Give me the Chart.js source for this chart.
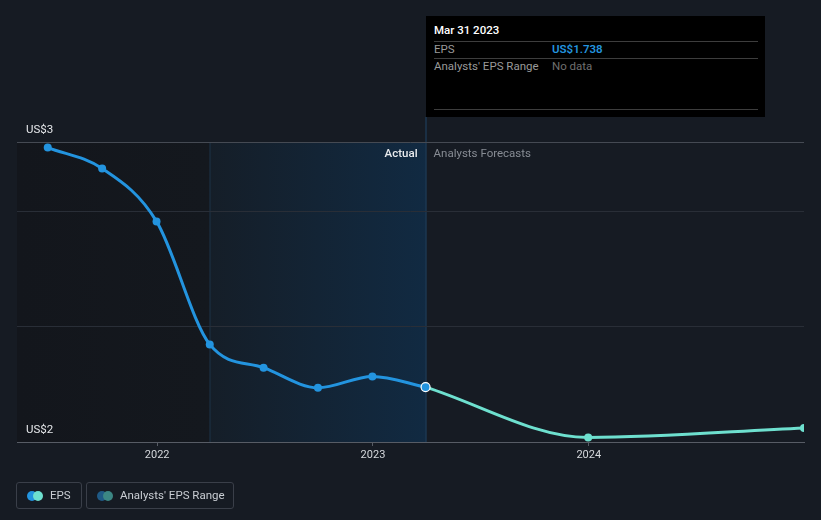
<!DOCTYPE html>
<html>
<head>
<meta charset="utf-8">
<script src="https://cdn.jsdelivr.net/npm/chart.js@4"></script>
<style>
  html, body { margin: 0; padding: 0; background: #161b23; }
  #wrap { position: relative; width: 821px; height: 520px; overflow: hidden; background: #161b23; font-family: Roboto, "Noto Sans", sans-serif; }
  canvas { position: absolute; left: 0; top: 0; }
  #tip { position: absolute; left: 426px; top: 16px; width: 339px; height: 101px; background: #000; }
  #tip div { line-height: 13px; }
  #tip .title { position: absolute; left: 8px; top: 8px; color: #fff; font-size: 11.5px; font-weight: 500; }
  #tip .sep { position: absolute; left: 8px; width: 324px; height: 1px; background: #3d3d3d; }
  #tip .lab { position: absolute; left: 8px; color: #9a9a9a; font-size: 11.5px; }
  #tip .val { position: absolute; left: 126px; font-size: 11.5px; }
  .legend { position: absolute; top: 482px; height: 27px; border: 1px solid #3a3f49; border-radius: 3px; box-sizing: border-box; color: #c9cdd3; font-size: 11.5px; }
  .legend .dot { position: absolute; top: 7.5px; width: 10px; height: 10px; border-radius: 50%; }
  .legend .txt { position: absolute; top: 5.5px; line-height: 13px; }
</style>
</head>
<body>
<div id="wrap">
  <canvas id="c" width="821" height="520"></canvas>
  <div id="tip">
    <div class="title">Mar 31 2023</div>
    <div class="sep" style="top:25px"></div>
    <div class="lab" style="top:27px">EPS</div>
    <div class="val" style="top:27px;color:#2394df;font-weight:600">US$1.738</div>
    <div class="sep" style="top:42px"></div>
    <div class="lab" style="top:44px">Analysts' EPS Range</div>
    <div class="val" style="top:44px;color:#6f6f6f">No data</div>
    <div class="sep" style="top:93px"></div>
  </div>
  <div class="legend" style="left:16px;width:66px">
    <div class="dot" style="left:10px;background:#2394df"></div>
    <div class="dot" style="left:16px;background:#6ee0cf"></div>
    <div class="txt" style="left:33px">EPS</div>
  </div>
  <div class="legend" style="left:86px;width:148px">
    <div class="dot" style="left:10px;background:#1f5a86"></div>
    <div class="dot" style="left:16px;background:#3c8784"></div>
    <div class="txt" style="left:33px">Analysts' EPS Range</div>
  </div>
</div>
<script>
// ---- data ----
const epsDates = ['2021-06-30','2021-09-30','2021-12-31','2022-03-31','2022-06-30','2022-09-30','2022-12-31','2023-03-31'];
const epsValues = [2.776, 2.685, 2.456, 1.923, 1.822, 1.735, 1.784, 1.738];
const forecastDates = ['2023-03-31','2023-12-31','2024-12-31'];
const forecastValues = [1.738, 1.520, 1.561];
const xTickYears = [2022, 2023, 2024];
const yTickValues = [1.5, 2.0, 2.5, 2.8];
const yTickLabels = {1.5: 'US$2', 2.8: 'US$3'};
const pastYearStart = '2022-03-31';
const todayDate = '2023-03-31';
const xMinDate = '2021-05-09';

function yearFrac(s) {
  const d = new Date(s + 'T00:00:00Z');
  const y = d.getUTCFullYear();
  const start = Date.UTC(y, 0, 1), end = Date.UTC(y + 1, 0, 1);
  return y + (d.getTime() - start) / (end - start);
}

const epsData = epsDates.map((d, i) => ({x: yearFrac(d), y: epsValues[i]}));
const fcData = forecastDates.map((d, i) => ({x: yearFrac(d), y: forecastValues[i]}));

const shadePlugin = {
  id: 'shade',
  beforeDraw(chart) {
    const {ctx, chartArea: a, scales: {x}} = chart;
    const xs = x.getPixelForValue(yearFrac(pastYearStart));
    const xt = x.getPixelForValue(yearFrac(todayDate));
    ctx.save();
    let g = ctx.createLinearGradient(a.left, 0, xs, 0);
    g.addColorStop(0, '#13161c');
    g.addColorStop(1, '#14181e');
    ctx.fillStyle = g;
    ctx.fillRect(a.left, a.top, xs - a.left, a.bottom - a.top);
    g = ctx.createLinearGradient(xs, 0, xt, 0);
    g.addColorStop(0, '#151e28');
    g.addColorStop(1, '#112a42');
    ctx.fillStyle = g;
    ctx.fillRect(xs, a.top, xt - xs, a.bottom - a.top);
    ctx.fillStyle = '#1c3347';
    ctx.fillRect(Math.round(xs) - 0.5, a.top, 1, a.bottom - a.top);
    ctx.fillStyle = '#1f4566';
    ctx.fillRect(Math.round(xt) - 0.5, 117, 1, a.bottom - 117);
    ctx.font = '500 11.5px Roboto, sans-serif';
    ctx.textBaseline = 'middle';
    ctx.textAlign = 'right';
    ctx.fillStyle = '#e8eaed';
    ctx.fillText('Actual', xt - 8, a.top + 12);
    ctx.textAlign = 'left';
    ctx.fillStyle = '#878c94';
    ctx.font = '11.5px Roboto, sans-serif';
    ctx.fillText('Analysts Forecasts', xt + 8, a.top + 12);
    ctx.restore();
  }
};

new Chart(document.getElementById('c'), {
  type: 'line',
  data: {
    datasets: [
      {
        label: 'EPS',
        data: epsData,
        borderColor: '#2394df',
        backgroundColor: '#2394df',
        borderWidth: 3,
        cubicInterpolationMode: 'monotone',
        pointRadius: epsData.map((p, i) => i === epsData.length - 1 ? 4.5 : 4),
        pointBorderWidth: epsData.map((p, i) => i === epsData.length - 1 ? 1.2 : 0),
        pointBorderColor: epsData.map((p, i) => i === epsData.length - 1 ? '#ffffff' : '#2394df'),
        pointBackgroundColor: '#2394df',
        order: 1
      },
      {
        label: 'Forecast',
        data: fcData,
        borderColor: '#6ee0cf',
        backgroundColor: '#6ee0cf',
        borderWidth: 3,
        cubicInterpolationMode: 'monotone',
        pointRadius: fcData.map((p, i) => i === 0 ? 0 : 4),
        pointBorderWidth: 0,
        pointBackgroundColor: '#6ee0cf',
        order: 2
      }
    ]
  },
  options: {
    responsive: false,
    animation: false,
    events: [],
    layout: { padding: { top: 142, left: 17, right: 17, bottom: 50 } },
    plugins: { legend: { display: false }, tooltip: { enabled: false } },
    scales: {
      x: {
        type: 'linear',
        min: yearFrac(xMinDate),
        max: yearFrac(forecastDates[forecastDates.length - 1]),
        afterBuildTicks(s) { s.ticks = xTickYears.map(v => ({value: v})); },
        afterFit(s) { s.height = 28; },
        border: { display: true, color: '#575c65', width: 1 },
        grid: { display: true, drawOnChartArea: false, drawTicks: true, tickLength: 4, color: '#575c65' },
        ticks: {
          color: '#d5d8dc',
          font: { family: 'Roboto, sans-serif', size: 11 },
          padding: 3,
          maxRotation: 0,
          callback: v => String(v)
        }
      },
      y: {
        type: 'linear',
        min: yTickValues[0],
        max: yTickValues[yTickValues.length - 1],
        afterBuildTicks(s) { s.ticks = yTickValues.map(v => ({value: v})); },
        afterFit(s) { s.width = 0; },
        border: { display: false },
        grid: {
          drawTicks: false,
          color: c => {
            const v = c.tick && c.tick.value;
            if (v === yTickValues[yTickValues.length - 1]) return '#454a53';
            if (v === yTickValues[0]) return 'rgba(0,0,0,0)';
            return '#292e37';
          }
        },
        ticks: {
          mirror: true,
          padding: 9,
          labelOffset: -12,
          color: '#e6e8eb',
          font: { family: 'Roboto, sans-serif', size: 11.5 },
          callback: v => yTickLabels[v] || ''
        }
      }
    }
  },
  plugins: [shadePlugin]
});
</script>
</body>
</html>
